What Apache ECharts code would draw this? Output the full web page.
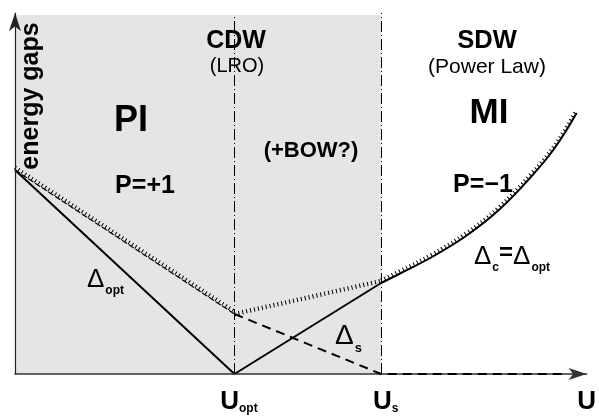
<!DOCTYPE html>
<html><head><meta charset="utf-8">
<script src="https://cdn.jsdelivr.net/npm/echarts@6/dist/echarts.min.js"></script>
<style>html,body{margin:0;padding:0;background:#fff}#c{width:599px;height:416px}</style>
</head><body><div id="c"></div>
<script>
// ---- data (schematic units) ----
const U_OPT = 220;
const U_S = 367;
const U_MAX = 573;
const GAP_MAX = 361;
const SHADE_TOP = 359;
const tickValues = [U_OPT, U_S, U_MAX];
const tickLabels = ['U_opt', 'U_s', 'U'];
const deltaOptLinear = [[0, 204], [220, 0], [367, 91]];
const deltaOptCurve = [[367, 91], [385, 100], [418, 117], [452, 138], [485, 164], [518, 198], [541, 226], [563, 261]];
const deltaCPI = [[0, 204], [220, 60]];
const deltaCMid = [[220, 60], [367, 93]];
const deltaS = [[220, 60], [367, 0], [552, 0]];

// ---- style ----
const FONT = 'Liberation Sans';
const SHADE = '#e5e5e5';
const TICK_OFFSET = 2.5;
const shift = (arr) => arr.map(p => [p[0], p[1] + TICK_OFFSET]);

const chart = echarts.init(document.getElementById('c'), null, {renderer: 'canvas'});

function txt(text, x, y, size, weight, extra) {
  return Object.assign({
    type: 'text', x: x, y: y, z: 100, silent: true,
    style: {text: text, fontFamily: FONT, fontSize: size, fontWeight: weight, fill: '#000',
            align: 'center', verticalAlign: 'middle'}
  }, extra || {});
}
function deltaTxt(parts, x, y, F, f, p) {
  const s = parts.map(q => '{' + q[0] + '|' + q[1] + '}').join('');
  return {
    type: 'text', x: x, y: y, z: 100, silent: true,
    style: {text: s, fontFamily: FONT, fill: '#000', align: 'left', verticalAlign: 'top',
      rich: {
        d: {fontFamily: FONT, fontSize: F, lineHeight: F, verticalAlign: 'top', fill: '#000'},
        s: {fontFamily: FONT, fontSize: f, lineHeight: f, fontWeight: 'bold', verticalAlign: 'top', padding: [p, 0, 0, 1], fill: '#000'},
        e: {fontFamily: FONT, fontSize: 24, lineHeight: 24, fontWeight: 'bold', verticalAlign: 'top', padding: [-3, 0, 0, 0], fill: '#000'}
      }}
  };
}

const option = {
  animation: false,
  backgroundColor: '#fff',
  grid: {left: 15, top: 13, width: 573, height: 361, containLabel: false},
  xAxis: {
    type: 'value', min: 0, max: U_MAX, z: 5,
    axisLine: {show: true, symbol: ['none', 'arrow'], symbolSize: [9, 18],
               lineStyle: {color: '#333', width: 1.5}},
    axisTick: {show: false}, splitLine: {show: false},
    axisLabel: {
      customValues: tickValues, margin: 15, showMaxLabel: true, hideOverlap: false,
      formatter: function (v) {
        const i = tickValues.indexOf(v);
        if (i < 0) return '';
        const t = tickLabels[i].split('_');
        return t.length > 1 ? '{u|' + t[0] + '}{s|' + t[1] + '}' : '{n|' + t[0] + '}';
      },
      rich: {
        u: {fontFamily: FONT, fontSize: 26, fontWeight: 'bold', lineHeight: 26, verticalAlign: 'top', padding: [0, 0, 0, 9], color: '#000'},
        s: {fontFamily: FONT, fontSize: 12, fontWeight: 'bold', lineHeight: 12, verticalAlign: 'top', padding: [14, 0, 0, 0], color: '#000'},
        n: {fontFamily: FONT, fontSize: 26, fontWeight: 'bold', lineHeight: 26, verticalAlign: 'top', color: '#000'}
      }
    }
  },
  yAxis: {
    type: 'value', min: 0, max: GAP_MAX, z: 5,
    axisLine: {show: true, symbol: ['none', 'arrow'], symbolSize: [9, 18],
               lineStyle: {color: '#222', width: 1.2}},
    axisTick: {show: false}, splitLine: {show: false}, axisLabel: {show: false}
  },
  graphic: {elements: [
    txt('energy gaps', 31, 96, 25, 'bold', {rotation: Math.PI / 2}),
    txt('CDW', 236, 41, 25, 'bold'),
    txt('(LRO)', 237, 66, 20, 'normal'),
    txt('SDW', 487, 41, 25.5, 'bold'),
    txt('(Power Law)', 487, 67, 21, 'normal'),
    txt('PI', 131, 121, 36, 'bold'),
    txt('MI', 489, 113, 35, 'bold'),
    txt('(+BOW?)', 311, 151, 22, 'bold'),
    txt('P=+1', 145, 186, 25, 'bold'),
    txt('P=\u22121', 483, 185, 25, 'bold'),
    deltaTxt([['d', '\u0394'], ['s', 'opt']], 87, 267, 26, 12, 18),
    deltaTxt([['d', '\u0394'], ['s', 's']], 335, 322, 28, 13, 20),
    deltaTxt([['d', '\u0394'], ['s', 'c'], ['e', '='], ['d', '\u0394'], ['s', 'opt']], 474, 244, 26, 12, 18)
  ]},
  series: [
    {type: 'line', data: deltaOptLinear, z: 1, silent: true, symbol: 'none',
     lineStyle: {opacity: 0},
     markArea: {silent: true, itemStyle: {color: SHADE}, data: [[{coord: [0, 0]}, {coord: [U_S, SHADE_TOP]}]]}},
    {type: 'line', data: deltaOptLinear, z: 2, silent: true, symbol: 'none',
     lineStyle: {opacity: 0},
     markLine: {silent: true, symbol: ['none', 'none'], label: {show: false}, emphasis: {disabled: true},
       lineStyle: {color: '#000', width: 1, type: [11, 3, 1, 3]},
       data: [[{coord: [U_OPT, 0]}, {coord: [U_OPT, SHADE_TOP]}], [{coord: [U_S, 0]}, {coord: [U_S, GAP_MAX]}]]}},
    {type: 'line', data: deltaOptLinear, z: 4, silent: true, symbol: 'none',
     lineStyle: {color: '#000', width: 2}},
    {type: 'line', data: deltaOptCurve, z: 4, silent: true, symbol: 'none', smooth: 0.4,
     lineStyle: {color: '#000', width: 2}},
    {type: 'line', data: shift(deltaOptCurve), z: 4, silent: true, symbol: 'none', smooth: 0.4,
     lineStyle: {color: '#000', width: 4, type: [1, 3], cap: 'butt'}},
    {type: 'line', data: deltaCPI, z: 4, silent: true, symbol: 'none',
     lineStyle: {color: '#000', width: 1.2, type: [6, 2]}},
    {type: 'line', data: shift(deltaCPI), z: 4, silent: true, symbol: 'none',
     lineStyle: {color: '#000', width: 4, type: [1, 3], cap: 'butt'}},
    {type: 'line', data: deltaCMid, z: 4, silent: true, symbol: 'none',
     lineStyle: {color: '#000', width: 4.5, type: [1, 3], cap: 'butt'}},
    {type: 'line', data: deltaS, z: 6, silent: true, symbol: 'none',
     lineStyle: {color: '#000', width: 2, type: [9, 6], cap: 'butt'}}
  ]
};
chart.setOption(option);
</script>
</body></html>
